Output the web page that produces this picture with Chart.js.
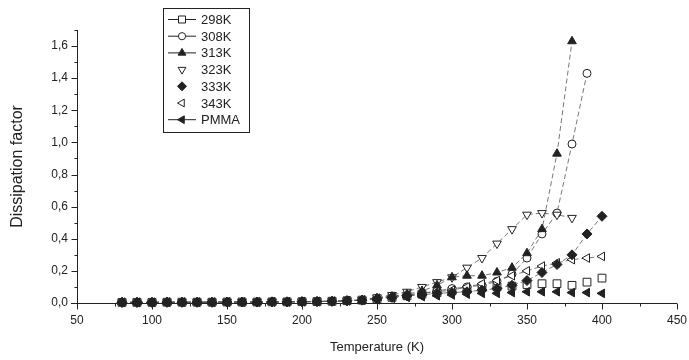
<!DOCTYPE html>
<html>
<head>
<meta charset="utf-8">
<script src="https://cdn.jsdelivr.net/npm/chart.js@4/dist/chart.umd.min.js"></script>
<style>
html,body{margin:0;padding:0;background:#fff;}
#wrap{width:689px;height:360px;}
</style>
</head>
<body>
<div id="wrap"><canvas id="chart" width="689" height="360"></canvas></div>
<script>
// temperatures (K), one point every 10 K
var temps = [80,90,100,110,120,130,140,150,160,170,180,190,200,210,220,230,240,
             250,260,270,280,290,300,310,320,330,340,350,360,370,380,390,400];

var low = [0.004,0.004,0.004,0.005,0.005,0.005,0.005,0.006,0.006,0.006,0.007,0.007,0.008,0.009,0.011,0.014,0.018];

var k298 = low.concat([0.025,0.035,0.045,0.055,0.065,0.075,0.085,0.095,0.10,0.105,0.115,0.12,0.12,0.11,0.13,0.155]);
var k308 = low.concat([0.03,0.04,0.05,0.06,0.075,0.09,0.10,0.11,0.135,0.18,0.28,0.43,0.56,0.99,1.43,null]);
var k313 = low.concat([0.03,0.04,0.055,0.075,0.11,0.16,0.17,0.17,0.19,0.22,0.31,0.46,0.93,1.63,null,null]);
var k323 = low.concat([0.035,0.05,0.07,0.10,0.13,0.16,0.22,0.28,0.37,0.46,0.55,0.56,0.55,0.53,null,null]);
var k333 = low.concat([0.025,0.035,0.045,0.05,0.06,0.065,0.07,0.08,0.09,0.11,0.14,0.19,0.24,0.30,0.43,0.54]);
var k343 = low.concat([0.03,0.04,0.05,0.06,0.07,0.08,0.10,0.12,0.14,0.17,0.20,0.23,0.25,0.27,0.28,0.29]);
var pmma = low.concat([0.02,0.03,0.035,0.04,0.045,0.05,0.055,0.06,0.06,0.065,0.07,0.07,0.07,0.065,0.065,0.06]);

var xTicks = [50,100,150,200,250,300,350,400,450];

var ink = "#222";
var lineInk = "#555";
var fontFam = "'Liberation Sans', Arial, sans-serif";

function pts(vals){
    return vals.map(function(v,i){ return {x: temps[i], y: v}; });
}

function series(label, vals, style, rot, filled, line, legendLine, r, order){
    return {
        label: label,
        data: pts(vals),
        pointStyle: style,
        rotation: rot,
        pointRadius: r,
        pointBorderWidth: 1,
        pointBorderColor: ink,
        pointBackgroundColor: filled ? ink : "#fff",
        borderColor: lineInk,
        borderWidth: 0.8,
        borderDash: [5,3],
        showLine: line,
        fill: false,
        tension: 0,
        clip: false,
        order: order,
        legendLine: legendLine
    };
}

var datasets = [
    series("298K", k298, "rect", 0, false, false, true, 5.5, 6),
    series("308K", k308, "circle", 0, false, true, true, 4, 5),
    series("313K", k313, "triangle", 0, true, true, true, 5, 2),
    series("323K", k323, "triangle", 180, false, true, false, 5, 4),
    series("333K", k333, "rectRot", 0, true, true, false, 5, 1),
    series("343K", k343, "triangle", 270, false, true, false, 5, 3),
    series("PMMA", pmma, "triangle", 270, true, false, true, 5, 0)
];

// axis lines, major / minor ticks
var axisTicks = {
    id: "axisTicks",
    afterDraw: function(chart){
        var ctx = chart.ctx, xs = chart.scales.x, ys = chart.scales.y;
        ctx.save();
        ctx.strokeStyle = ink;
        ctx.lineWidth = 1;
        ctx.beginPath();
        var by = Math.round(ys.bottom) + 0.5;
        var lx = Math.round(xs.left) + 0.5;
        ctx.moveTo(xs.left - 6, by); ctx.lineTo(xs.right, by);
        ctx.moveTo(lx, ys.bottom); ctx.lineTo(lx, ys.top);
        xs.ticks.forEach(function(t){
            var px = Math.round(xs.getPixelForValue(t.value)) + 0.5;
            var len = xTicks.indexOf(t.value) >= 0 ? 6 : 3;
            ctx.moveTo(px, by); ctx.lineTo(px, by + len);
        });
        ys.ticks.forEach(function(t){
            var py = Math.round(ys.getPixelForValue(t.value)) + 0.5;
            var len = Math.round(t.value * 10) % 2 === 0 ? 6 : 3;
            ctx.moveTo(lx, py); ctx.lineTo(lx - len, py);
        });
        ctx.stroke();
        ctx.restore();
    }
};

// boxed legend in the upper left, line + marker + label
var boxLegend = {
    id: "boxLegend",
    afterDraw: function(chart){
        var ctx = chart.ctx;
        var bx = 163, by = 8, bw = 86, bh = 124, step = 16.7;
        ctx.save();
        ctx.fillStyle = "#fff";
        ctx.fillRect(bx, by, bw, bh);
        ctx.strokeStyle = ink;
        ctx.lineWidth = 1;
        ctx.strokeRect(bx + 0.5, by + 0.5, bw, bh);
        ctx.font = "13px " + fontFam;
        ctx.textBaseline = "middle";
        chart.data.datasets.forEach(function(ds, i){
            var y = by + 11.5 + i * step;
            var mx = bx + 19;
            if (ds.legendLine){
                ctx.beginPath();
                ctx.strokeStyle = ink;
                ctx.lineWidth = 1;
                ctx.moveTo(bx + 5, y); ctx.lineTo(bx + 33, y);
                ctx.stroke();
            }
            ctx.fillStyle = ds.pointBackgroundColor;
            ctx.strokeStyle = ds.pointBorderColor;
            ctx.lineWidth = 1;
            Chart.helpers.drawPoint(ctx, {
                pointStyle: ds.pointStyle,
                rotation: ds.rotation,
                radius: ds.pointRadius * 0.9,
                borderWidth: 1
            }, mx, y);
            ctx.fillStyle = ink;
            ctx.fillText(ds.label, bx + 38, y + 1);
        });
        ctx.restore();
    }
};

var ctx = document.getElementById("chart").getContext("2d");
new Chart(ctx, {
    type: "line",
    data: { datasets: datasets },
    options: {
        responsive: false,
        animation: false,
        layout: { autoPadding: false, padding: { top: 30, right: 12, left: 0, bottom: 0 } },
        plugins: {
            legend: { display: false },
            tooltip: { enabled: false }
        },
        scales: {
            x: {
                type: "linear",
                min: 50,
                max: 450,
                afterFit: function(s){
                    s.height = 57;
                    s.paddingLeft = 0;
                    s.paddingRight = 10;
                },
                grid: { display: false, drawTicks: false },
                border: { display: false },
                ticks: {
                    stepSize: 25,
                    padding: 10,
                    maxRotation: 0,
                    autoSkip: false,
                    color: ink,
                    font: { size: 12, family: fontFam },
                    callback: function(v){ return xTicks.indexOf(v) >= 0 ? String(v) : ""; }
                },
                title: {
                    display: true,
                    text: "Temperature (K)",
                    color: ink,
                    font: { size: 13, family: fontFam },
                    padding: { top: 0, bottom: 5 }
                }
            },
            y: {
                min: 0,
                max: 1.7,
                afterFit: function(s){ s.width = 77; },
                grid: { display: false, drawTicks: false },
                border: { display: false },
                ticks: {
                    stepSize: 0.1,
                    padding: 9,
                    autoSkip: false,
                    color: ink,
                    font: { size: 12, family: fontFam },
                    callback: function(v){
                        return Math.round(v * 10) % 2 === 0 ? v.toFixed(1).replace(".", ",") : "";
                    }
                },
                title: {
                    display: true,
                    text: "Dissipation factor",
                    color: ink,
                    font: { size: 16, family: fontFam },
                    padding: { top: 8, bottom: 0 }
                }
            }
        }
    },
    plugins: [axisTicks, boxLegend]
});
</script>
</body>
</html>
